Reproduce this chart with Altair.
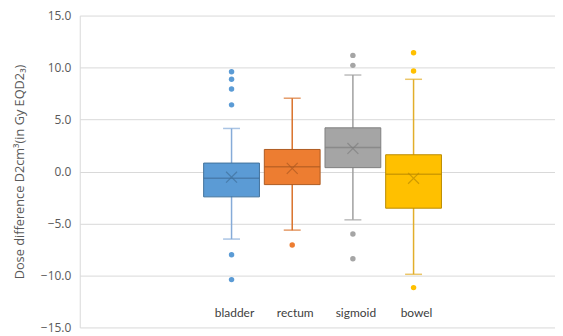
import altair as alt
import pandas as pd

categories = ["bladder", "rectum", "sigmoid", "bowel"]
whisker_low = [-6.5, -5.64, -4.65, -9.89]
q1 = [-2.44, -1.26, 0.37, -3.53]
median = [-0.65, 0.46, 2.32, -0.27]
mean = [-0.55, 0.3, 2.22, -0.65]
q3 = [0.81, 2.12, 4.2, 1.61]
whisker_high = [4.14, 7.05, 9.28, 8.87]

outlier_cat = ["bladder"] * 6 + ["rectum"] + ["sigmoid"] * 4 + ["bowel"] * 3
outlier_val = [9.6, 8.87, 7.94, 6.41, -8.0, -10.4,
               -7.08,
               11.17, 10.21, -6.02, -8.39,
               11.43, 9.67, -11.17]

fill_colors = ["#5B9BD5", "#ED7D31", "#A5A5A5", "#FFC000"]
dark_colors = ["#41719C", "#AE5A21", "#7F7F7F", "#BC8C00"]
whisker_colors = ["#86ABD8", "#D9712A", "#A0A0A0", "#E2AE2A"]

stats = pd.DataFrame({
    "cat": categories, "lo": whisker_low, "q1": q1, "med": median,
    "mean": mean, "q3": q3, "hi": whisker_high,
})
outliers = pd.DataFrame({"cat": outlier_cat, "v": outlier_val})

cat_expr = "indexof(" + str(categories).replace("'", '"') + ", datum.cat)"

W, H = 477, 313
# group slot positions (category index) on a continuous axis
xscale = alt.Scale(domain=[-2.42, 5.249], nice=False, zero=False)
yscale = alt.Scale(domain=[-15, 15], nice=False, zero=False)

X = alt.X("idx:Q", scale=xscale, axis=None)
fill_scale = alt.Scale(domain=categories, range=fill_colors)
dark_scale = alt.Scale(domain=categories, range=dark_colors)
wh_scale = alt.Scale(domain=categories, range=whisker_colors)

yaxis = alt.Axis(
    values=[-15, -10, -5, 0, 5, 10, 15], format=".1f",
    title="Dose difference D2cm³(in Gy EQD2₃)",
    labelFont="Open Sans", labelFontSize=12, labelColor="#595959",
    titleFont="Open Sans", titleFontSize=12.8, titleColor="#595959", titleFontWeight="normal",
    labelPadding=9, ticks=False, domain=True, domainColor="#D9D9D9",
    gridColor="#D9D9D9", gridWidth=1, titlePadding=13.5,
)

base = alt.Chart(stats).transform_calculate(idx=cat_expr)

whisk = base.mark_rule(strokeWidth=1.5).encode(
    x=X,
    y=alt.Y("lo:Q", scale=yscale, axis=yaxis),
    y2="hi:Q",
    color=alt.Color("cat:N", scale=wh_scale, legend=None),
)
cap_lo = base.mark_tick(size=17, thickness=1.5, orient="horizontal").encode(
    x=X, y=alt.Y("lo:Q", scale=yscale),
    color=alt.Color("cat:N", scale=wh_scale, legend=None),
)
cap_hi = base.mark_tick(size=17, thickness=1.5, orient="horizontal").encode(
    x=X, y=alt.Y("hi:Q", scale=yscale),
    color=alt.Color("cat:N", scale=wh_scale, legend=None),
)
box = base.mark_bar(size=56, strokeWidth=1, orient="vertical").encode(
    x=X,
    y=alt.Y("q1:Q", scale=yscale),
    y2="q3:Q",
    fill=alt.Fill("cat:N", scale=fill_scale, legend=None),
    stroke=alt.Stroke("cat:N", scale=dark_scale, legend=None),
)
med = base.mark_tick(size=56, thickness=1.5, orient="horizontal").encode(
    x=X, y=alt.Y("med:Q", scale=yscale),
    color=alt.Color("cat:N", scale=dark_scale, legend=None),
)
mean_x = base.mark_point(shape="M-1,-1L1,1M-1,1L1,-1", size=120, strokeWidth=1.2,
                         filled=False).encode(
    x=X, y=alt.Y("mean:Q", scale=yscale),
    stroke=alt.Stroke("cat:N", scale=dark_scale, legend=None),
)
outs = alt.Chart(outliers).transform_calculate(idx=cat_expr).mark_circle(
    size=30, opacity=1).encode(
    x=X, y=alt.Y("v:Q", scale=yscale),
    color=alt.Color("cat:N", scale=fill_scale, legend=None),
)
labels = base.mark_text(font="Lato", fontSize=12, color="#404040", baseline="middle",
                        dx=3).encode(
    x=X, y=alt.value(299), text="cat:N",
)

chart = alt.layer(whisk, cap_lo, cap_hi, box, med, mean_x, outs, labels).resolve_scale(
    color="independent", stroke="independent"
).properties(
    width=W, height=H,
    padding={"left": 5, "top": 1, "right": 0, "bottom": 0},
).configure_view(stroke=None)

chart.save("out.html", embed_options={"renderer": "svg", "actions": False})
